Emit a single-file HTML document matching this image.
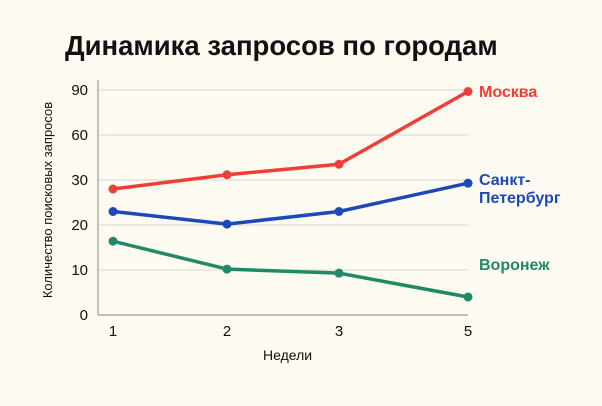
<!DOCTYPE html>
<html><head><meta charset="utf-8"><style>
body{margin:0;background:#fdfaf2;width:602px;height:401px;overflow:hidden;font-family:"Liberation Sans","DejaVu Sans",sans-serif;}
</style></head><body>
<svg id="chart" width="602" height="401" font-family="Liberation Sans, DejaVu Sans, sans-serif">
<rect width="602" height="401" fill="#fdfaf2"/>
<text x="65" y="55" font-size="27.5" font-weight="bold" fill="#111">Динамика запросов по городам</text>
<g id="grid"></g>
<line x1="98" y1="80" x2="98" y2="315" stroke="#999" stroke-width="1.2"/>
<line x1="98" y1="315" x2="468" y2="315" stroke="#999" stroke-width="1.2"/>
<g id="yt"></g><g id="xt"></g><g id="series"></g>
<text x="263" y="360" font-size="14" fill="#111">Недели</text>
<text transform="translate(52,200) rotate(-90)" text-anchor="middle" font-size="13" fill="#111">Количество поисковых запросов</text>
</svg>
<script>
const weeks=[1,2,3,5];
const yTicks=[0,10,20,30,60,90];
const moscow=[28,33.5,40.5,89];
const spb=[23,20.2,23,29.3];
const voronezh=[16.4,10.2,9.3,4];
const ns="http://www.w3.org/2000/svg";
const yPix=[315,270,225,180,135,90];
const xPix=[113,227,339,468];
function interp(v,ticks,pix){for(let i=0;i<ticks.length-1;i++){if(v<=ticks[i+1]||i==ticks.length-2){return pix[i]+(v-ticks[i])/(ticks[i+1]-ticks[i])*(pix[i+1]-pix[i]);}}}
const ys=v=>interp(v,yTicks,yPix);
const xs=v=>interp(v,weeks,xPix);
function mk(tag,a,p){const e=document.createElementNS(ns,tag);for(const k in a)e.setAttribute(k,a[k]);p.appendChild(e);return e;}
const grid=document.getElementById('grid');
yTicks.slice(1).forEach(t=>{const g=mk('line',{x1:98,x2:468,y1:ys(t),y2:ys(t),stroke:'#e0ddd6','stroke-width':1.2},grid);

});
const yt=document.getElementById('yt');
yTicks.forEach(t=>{const e=mk('text',{x:88,y:ys(t)+5,'text-anchor':'end','font-size':15,fill:'#111'},yt);e.textContent=t;

});
const xt=document.getElementById('xt');
weeks.forEach(w=>{const e=mk('text',{x:xs(w),y:336,'text-anchor':'middle','font-size':15,fill:'#111'},xt);e.textContent=w;

});
const sg=document.getElementById('series');
const series=[[moscow,'#ef3e36','moscow'],[spb,'#1c48b8','saint-petersburg'],[voronezh,'#1f8a66','voronezh']];
series.forEach(([d,c,n])=>{
const pts=d.map((v,i)=>xs(weeks[i])+','+ys(v)).join(' ');
const l=mk('polyline',{points:pts,fill:'none',stroke:c,'stroke-width':3.5,'stroke-linejoin':'round'},sg);


d.forEach((v,i)=>{const p=mk('circle',{cx:xs(weeks[i]),cy:ys(v),r:4.5,fill:c},sg);

});
});
const labels=[['Москва',97,'#ef3e36','moscow-label'],['Санкт-',185,'#1c48b8','spb-label-1'],['Петербург',203,'#1c48b8','spb-label-2'],['Воронеж',270,'#1f8a66','voronezh-label']];
labels.forEach(([t,y,c,n])=>{const e=mk('text',{x:479,y:y,'font-size':16,'font-weight':'bold',fill:c},sg);e.textContent=t;

});
</script>
</body></html>
